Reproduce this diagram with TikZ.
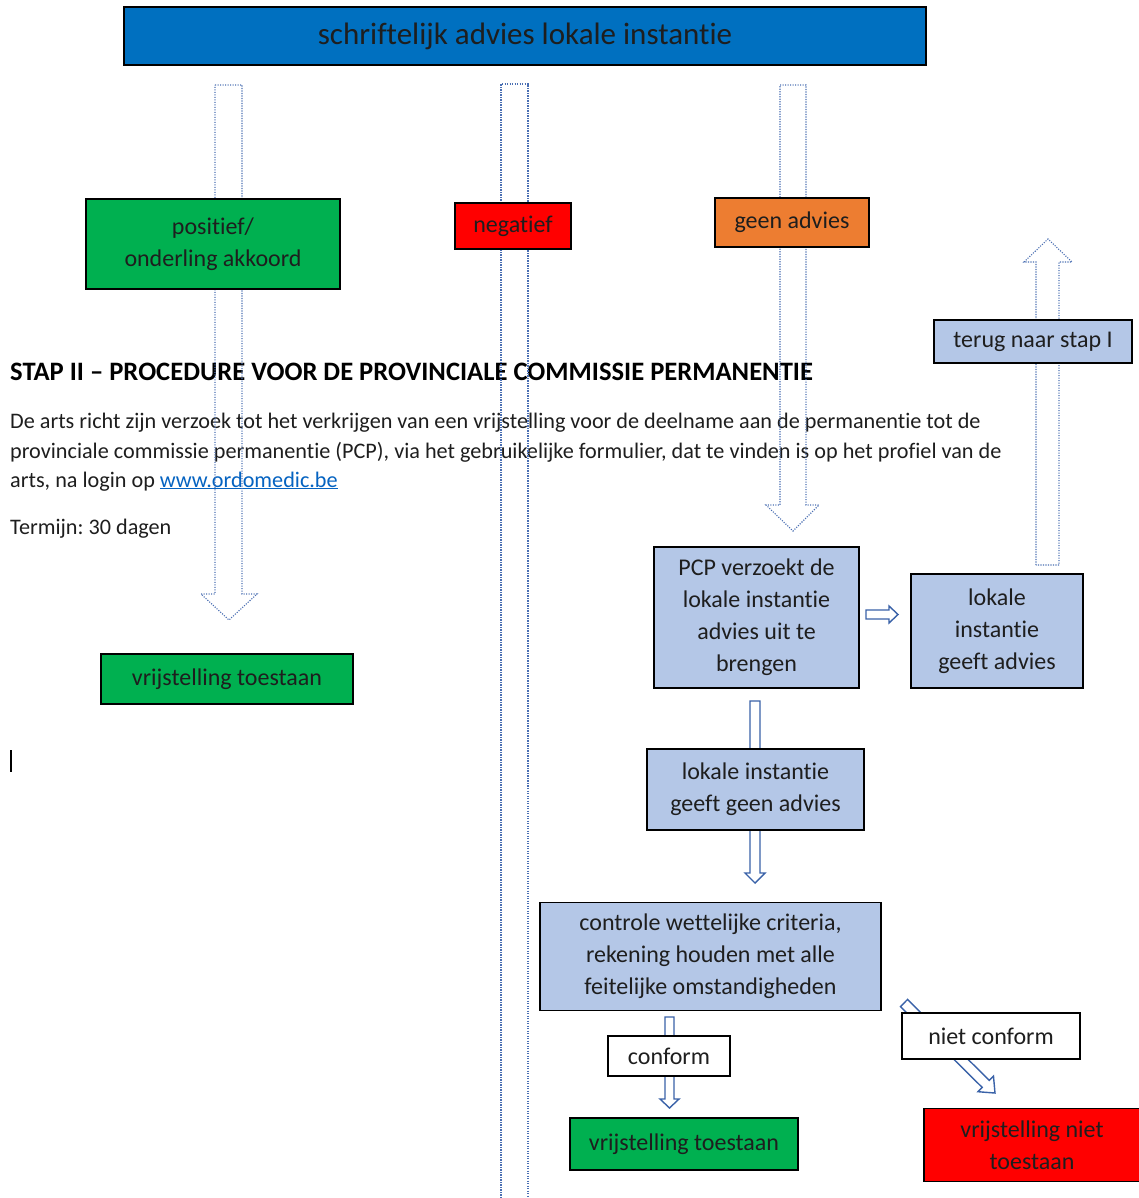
\documentclass[tikz,border=0pt]{standalone}
\usepackage{fontspec}
\setmainfont[Ligatures={NoCommon},RawFeature={-liga;-clig;-calt;-dlig}]{Carlito}
\definecolor{topblue}{HTML}{0070C0}
\definecolor{boxgreen}{HTML}{00B050}
\definecolor{boxred}{HTML}{FF0000}
\definecolor{boxorange}{HTML}{ED7D31}
\definecolor{boxlight}{HTML}{B4C7E7}
\definecolor{txt}{HTML}{1E1E1E}
\definecolor{dotblue}{HTML}{4A6FB3}
\definecolor{arrblue}{HTML}{3A62A8}
\definecolor{link}{HTML}{0563C1}
\newcommand\boxfont{\fontsize{24}{32}\selectfont}
\newcommand\topfont{\fontsize{31}{36}\selectfont}
\newcommand\parafont{\fontsize{22.2}{29}\selectfont}
\newcommand\headfont{\fontsize{26.6}{30}\selectfont\bfseries}
\frenchspacing
\begin{document}
\begin{tikzpicture}[x=1pt,y=-1pt,
  flowbox/.style={draw=black, line width=1.2pt, inner sep=0pt, align=center, font=\boxfont, text=txt},
  dotarrow/.style={draw=dotblue, line width=1.1pt, dash pattern=on 1.1pt off 1.4pt},
  solarrow/.style={draw=arrblue, line width=1.4pt, fill=white, line join=miter},
  plaintext/.style={anchor=base west, inner sep=0pt, text=txt}]
\useasboundingbox (0,0) rectangle (1139,1198);
\fill[white] (0,0) rectangle (1139,1198);

% document text
\node[plaintext, font=\headfont, text=black] (head) at (10,380) {STAP II – PROCEDURE VOOR DE PROVINCIALE COMMISSIE PERMANENTIE};
\node[plaintext, font=\parafont] (para1) at (10,428) {De arts richt zijn verzoek tot het verkrijgen van een vrijstelling voor de deelname aan de permanentie tot de};
\node[plaintext, font=\parafont] (para2) at (10,458) {provinciale commissie permanentie (PCP), via het gebruikelijke formulier, dat te vinden is op het profiel van de};
\node[plaintext, font=\parafont] (para3) at (10,487) {arts, na login op \textcolor{link}{\underline{www.ordomedic.be}}};
\node[plaintext, font=\parafont] (termijn) at (10,534) {Termijn: 30 dagen};
\draw[line width=1.3pt, black] (11,750) -- (11,772);

% dotted block arrows
\draw[dotarrow] (215,85) -- (242,85) -- (242,594) -- (257,594) -- (229,620) -- (201,594) -- (215,594) -- cycle;
\draw[dotarrow] (501,1198) -- (501,84) -- (528,84) -- (528,1198);
\draw[dotarrow] (780,85) -- (806,85) -- (806,505) -- (819,505) -- (793,531) -- (766,505) -- (780,505) -- cycle;
\draw[dotarrow] (1036,565) -- (1036,262) -- (1024,262) -- (1048,239) -- (1072,262) -- (1059,262) -- (1059,565) -- cycle;

% solid block arrows
\draw[solarrow] (866,610) -- (889,610) -- (889,606) -- (898,614.5) -- (889,623) -- (889,619) -- (866,619) -- cycle;
\draw[solarrow] (750,701) -- (760,701) -- (760,873) -- (765,873) -- (755,883) -- (745,873) -- (750,873) -- cycle;
\draw[solarrow] (665,1017) -- (674,1017) -- (674,1099) -- (679,1099) -- (669.5,1108) -- (660,1099) -- (665,1099) -- cycle;
\begin{scope}[shift={(904,1003)}, rotate=-44.7]
\draw[solarrow] (0,-5) -- (115,-5) -- (115,-11) -- (128,0) -- (115,11) -- (115,5) -- (0,5) -- cycle;
\end{scope}

% boxes
\node[flowbox, fill=topblue, minimum width=802pt, minimum height=58pt, font=\topfont] (top) at (525,36) {schriftelijk advies lokale instantie};
\node[flowbox, fill=boxgreen, minimum width=254pt, minimum height=90pt] (pos) at (213,244) {positief/\\onderling akkoord};
\node[flowbox, fill=boxred, minimum width=116pt, minimum height=46pt] (neg) at (513,226) {negatief};
\node[flowbox, fill=boxorange, minimum width=154pt, minimum height=49pt] (geen) at (792,222.5) {geen advies};
\node[flowbox, fill=boxlight, minimum width=198pt, minimum height=43pt] (terug) at (1033,341.5) {terug naar stap I};
\node[flowbox, fill=boxgreen, minimum width=252pt, minimum height=50pt] (vrijL) at (227,679) {vrijstelling toestaan};
\node[flowbox, fill=boxlight, minimum width=205pt, minimum height=141pt] (pcp) at (756.5,617.5) {PCP verzoekt de\\lokale instantie\\advies uit te\\brengen};
\node[flowbox, fill=boxlight, minimum width=172pt, minimum height=114pt] (geeft) at (997,631) {lokale\\instantie\\geeft advies};
\node[flowbox, fill=boxlight, minimum width=217pt, minimum height=81pt] (geengeen) at (755.5,789.5) {lokale instantie\\geeft geen advies};
\node[flowbox, fill=boxlight, minimum width=341pt, minimum height=108pt] (controle) at (710.5,956.5) {controle wettelijke criteria,\\rekening houden met alle\\feitelijke omstandigheden};
\node[flowbox, fill=white, minimum width=122pt, minimum height=40pt] (conform) at (669,1056) {conform};
\node[flowbox, fill=boxgreen, minimum width=228pt, minimum height=52pt] (vrijB) at (684,1144) {vrijstelling toestaan};
\node[flowbox, fill=white, minimum width=178pt, minimum height=46pt] (nietconf) at (991,1036) {niet conform};
\node[flowbox, fill=boxred, minimum width=216pt, minimum height=73pt] (vrijN) at (1032,1145) {vrijstelling niet\\toestaan};
\end{tikzpicture}
\end{document}
